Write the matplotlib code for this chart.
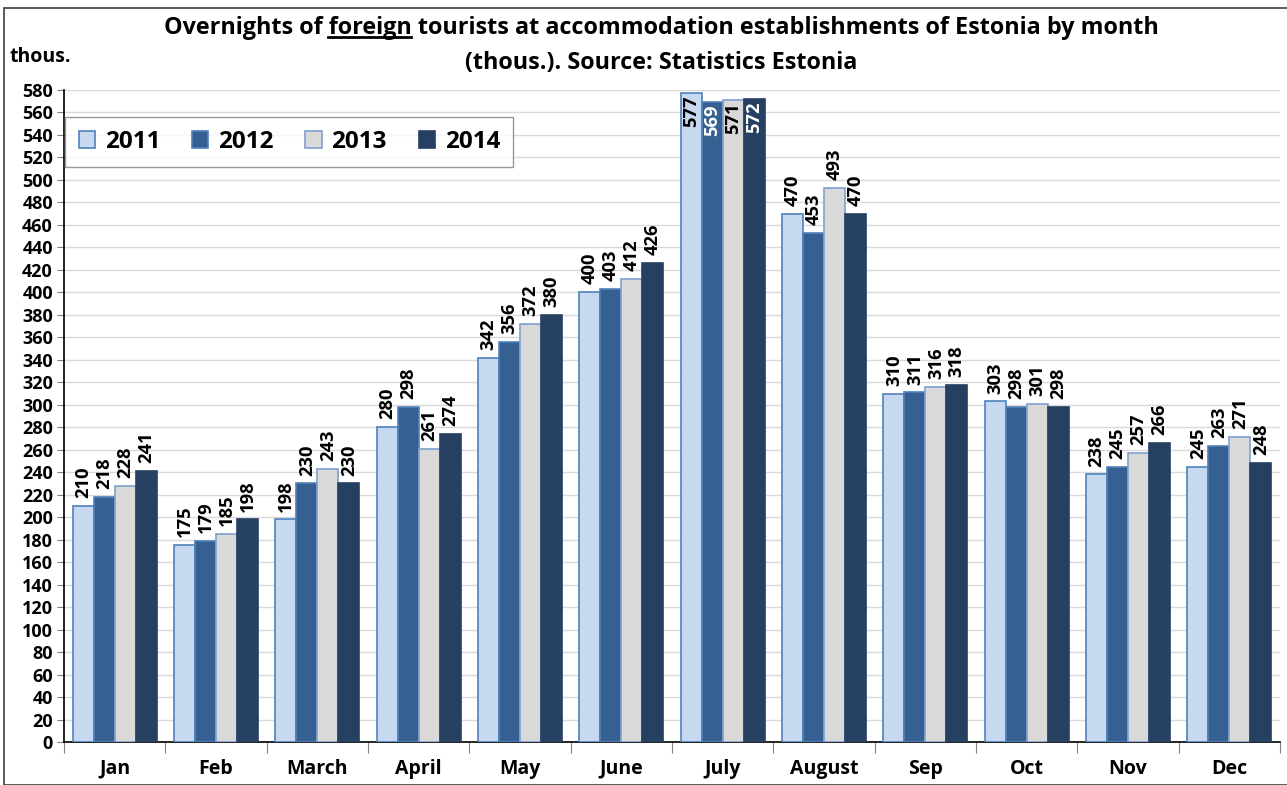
import matplotlib
matplotlib.use("Agg")
import matplotlib.pyplot as plt
import numpy as np
from matplotlib.patches import Rectangle
from matplotlib.lines import Line2D

months = ["Jan", "Feb", "March", "April", "May", "June", "July", "August", "Sep", "Oct", "Nov", "Dec"]
years = ["2011", "2012", "2013", "2014"]
v2011 = [210, 175, 198, 280, 342, 400, 577, 470, 310, 303, 238, 245]
v2012 = [218, 179, 230, 298, 356, 403, 569, 453, 311, 298, 245, 263]
v2013 = [228, 185, 243, 261, 372, 412, 571, 493, 316, 301, 257, 271]
v2014 = [241, 198, 230, 274, 380, 426, 572, 470, 318, 298, 266, 248]
series = [v2011, v2012, v2013, v2014]

fills = ["#C6D9F1", "#366092", "#D9D9D9", "#254061"]
edges = ["#4F81BD", "#4F81BD", "#7F9FCF", "#254061"]
inside_colors = ["black", "white", "black", "white"]

plt.rcParams['font.family'] = ['Open Sans', 'DejaVu Sans']
plt.rcParams['font.weight'] = 'bold'

W, H = 1287, 785
fig = plt.figure(figsize=(W / 100, H / 100), dpi=100)
ax = fig.add_axes([64 / W, 1 - 742 / H, (1280 - 64) / W, (742 - 90) / H])

# figure border
fig.patches.append(Rectangle((4 / W, 0), 1.2, 1 - 8 / H, transform=fig.transFigure,
                             fill=False, edgecolor="#404040", lw=1.2))

n = len(months)
x = np.arange(n)
bw = 0.207
offs = (np.arange(4) - 1.5) * bw
lfs = 13.2
for i, (vals, fc, ec) in enumerate(zip(series, fills, edges)):
    ax.bar(x + offs[i], vals, width=bw, color=fc, edgecolor=ec, linewidth=1.2,
           label=years[i], zorder=3)
    for j, v in enumerate(vals):
        if v > 560:
            ax.text(x[j] + offs[i], v - 2, str(v), rotation=90, ha='center', va='top',
                    fontsize=lfs, fontweight='bold', color=inside_colors[i], zorder=4)
        else:
            ax.text(x[j] + offs[i], v + 7, str(v), rotation=90, ha='center', va='bottom',
                    fontsize=lfs, fontweight='bold', color='black', zorder=4)

ax.set_xlim(-0.5, n - 0.5)
ax.set_ylim(0, 580)
ax.set_yticks(np.arange(0, 581, 20))
ax.yaxis.grid(True, color="#D9D9D9", lw=1, zorder=0)
ax.set_axisbelow(True)
ax.tick_params(axis='y', labelsize=13, length=5, color="#808080", pad=3)
for lab in ax.get_yticklabels():
    lab.set_fontweight('bold')

ax.set_xticks(np.arange(-0.5, n, 1.0))
ax.set_xticklabels([])
ax.tick_params(axis='x', length=8, color="#808080", which='major')
ax.set_xticks(x, minor=True)
ax.set_xticklabels(months, minor=True, fontsize=14, fontweight='bold')
ax.tick_params(axis='x', which='minor', length=0, pad=12)

for s in ['top', 'right']:
    ax.spines[s].set_visible(False)
ax.spines['left'].set_color('black')
ax.spines['bottom'].set_color('black')
ax.spines['left'].set_linewidth(1.2)
ax.spines['bottom'].set_linewidth(1.2)

leg = ax.legend(loc='upper left', bbox_to_anchor=(0.001, 0.959), borderaxespad=0,
                ncol=4, frameon=True, fancybox=False,
                prop={'weight': 'bold', 'size': 17.5},
                handlelength=0.68, handleheight=0.68, handletextpad=0.4,
                columnspacing=1.3, borderpad=0.55)
leg.get_frame().set_edgecolor("#808080")
leg.get_frame().set_linewidth(1.0)
leg.set_zorder(5)

# title
line1 = "Overnights of foreign tourists at accommodation establishments of Estonia by month"
line2 = "(thous.). Source: Statistics Estonia"
tfs = 16.8
tx = 661 / W
t1 = fig.text(tx, 1 - 28 / H, line1, ha='center', va='center', fontsize=tfs, fontweight='bold')
t2 = fig.text(tx, 1 - 63 / H, line2, ha='center', va='center', fontsize=tfs, fontweight='bold')
fig.text(10 / W, 1 - 57 / H, "thous.", ha='left', va='center', fontsize=14, fontweight='bold')

fig.canvas.draw()
r = fig.canvas.get_renderer()
bb = t1.get_window_extent(r)
tmp = fig.text(0, 0, "Overnights of ", fontsize=tfs, fontweight='bold')
tmp2 = fig.text(0, 0, "foreign", fontsize=tfs, fontweight='bold')
w_pre = tmp.get_window_extent(r).width
w_f = tmp2.get_window_extent(r).width
tmp.remove(); tmp2.remove()
x0 = bb.x0 + w_pre
x1 = x0 + w_f
yline = bb.y0 + 3
fig.lines.append(Line2D([x0 / W, x1 / W], [yline / H, yline / H], transform=fig.transFigure,
                        color='black', lw=2.0))

fig.savefig("out.png", dpi=100)
